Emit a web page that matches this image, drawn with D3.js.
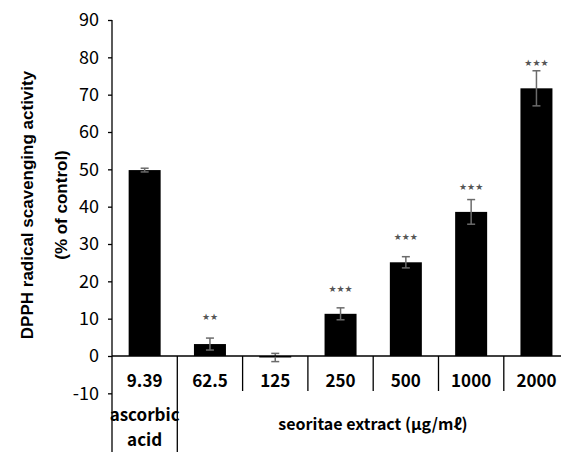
<!DOCTYPE html>
<html>
<head>
<meta charset="utf-8">
<script src="https://cdn.jsdelivr.net/npm/d3@7"></script>
<style>
  body { margin: 0; background: #fff; }
  svg { display: block; }
</style>
</head>
<body>
<svg width="561" height="452"></svg>
<script>
var width = 561, height = 452;

// concentrations (first one is the ascorbic acid control)
var categories = ["9.39", "62.5", "125", "250", "500", "1000", "2000"];
var values = [49.8, 3.2, -0.4, 11.3, 25.1, 38.6, 71.7];
var errors = [0.5, 1.6, 1.1, 1.6, 1.5, 3.3, 4.7];
var stars = ["", "**", "", "***", "***", "***", "***"];
var starLevel = [null, 10.4, null, 18.1, 32.0, 45.4, 78.4];
var yTicks = [-10, 0, 10, 20, 30, 40, 50, 60, 70, 80, 90];

var svg = d3.select("svg");

var y = d3.scaleLinear().domain([0, 90]).range([356, 20]);
var x = d3.scaleBand().domain(categories).range([112, 112 + 65.3 * 7]);
var barW = 32;

var labelFont = "'Noto Sans CJK KR', 'Noto Sans', sans-serif";

// y axis
var yAxis = d3.axisLeft(y).tickValues(yTicks).tickSize(4).tickPadding(9)
    .tickFormat(function (d) { return String(d); });
var ga = svg.append("g").attr("transform", "translate(112,0)").call(yAxis);
ga.select(".domain").remove();
ga.selectAll(".tick line").attr("stroke", "#000").attr("stroke-width", 1.3);
ga.selectAll(".tick text")
    .attr("font-family", labelFont)
    .attr("font-size", "18px")
    .attr("fill", "#000");
// axis line runs down to the bottom of the table
svg.append("line")
    .attr("x1", 112).attr("x2", 112)
    .attr("y1", y(90)).attr("y2", height)
    .attr("stroke", "#000").attr("stroke-width", 1.3);

// axis title
var title = svg.append("text")
    .attr("transform", "translate(33," + 205 + ") rotate(-90)")
    .attr("text-anchor", "middle")
    .attr("font-family", "'Liberation Sans', Arial, sans-serif")
    .attr("font-weight", "bold")
    .attr("font-size", "17px");
title.append("tspan").attr("x", 0).attr("y", 0).text("DPPH radical scavenging activity");
title.append("tspan").attr("x", 0).attr("y", 34).text("(% of control)");

// bars
svg.append("g").selectAll("rect").data(categories).enter()
    .append("rect")
    .attr("x", function (d) { return x(d) + x.bandwidth() / 2 - barW / 2; })
    .attr("width", barW)
    .attr("y", function (d, i) { return y(Math.max(0, values[i])); })
    .attr("height", function (d, i) { return Math.abs(y(values[i]) - y(0)); })
    .attr("fill", "#000");

// error bars
var eb = svg.append("g").attr("stroke", "#6b6b6b").attr("stroke-width", 1.5);
categories.forEach(function (d, i) {
    var cx = x(d) + x.bandwidth() / 2;
    var top = y(values[i] + errors[i]), bot = y(values[i] - errors[i]);
    eb.append("line").attr("x1", cx).attr("x2", cx).attr("y1", top).attr("y2", bot);
    eb.append("line").attr("x1", cx - 4).attr("x2", cx + 4).attr("y1", top).attr("y2", top);
    eb.append("line").attr("x1", cx - 4).attr("x2", cx + 4).attr("y1", bot).attr("y2", bot);
});

// significance marks
svg.append("g").selectAll("text").data(categories).enter()
    .append("text")
    .attr("x", function (d) { return x(d) + x.bandwidth() / 2; })
    .attr("y", function (d, i) { return starLevel[i] == null ? 0 : y(starLevel[i]); })
    .attr("dy", "0.35em")
    .attr("text-anchor", "middle")
    .attr("font-family", "'DejaVu Sans', sans-serif")
    .attr("font-size", "9px")
    .attr("fill", "#555")
    .text(function (d, i) { return stars[i].replace(/\*/g, "\u2605"); });

// zero line
svg.append("line")
    .attr("x1", 112).attr("x2", width)
    .attr("y1", y(0)).attr("y2", y(0))
    .attr("stroke", "#000").attr("stroke-width", 1.3);

// category dividers
categories.forEach(function (d, i) {
    if (i === 0) return;
    svg.append("line")
        .attr("x1", x(d)).attr("x2", x(d))
        .attr("y1", y(0)).attr("y2", i === 1 ? height : 391)
        .attr("stroke", "#000").attr("stroke-width", 1.3);
});

// category labels
svg.append("g").selectAll("text").data(categories).enter()
    .append("text")
    .attr("x", function (d) { return x(d) + x.bandwidth() / 2; })
    .attr("y", 387)
    .attr("text-anchor", "middle")
    .attr("font-family", labelFont)
    .attr("font-weight", "bold")
    .attr("font-size", "17px")
    .text(function (d) { return d; });

var cx0 = x(categories[0]) + x.bandwidth() / 2;
svg.append("text").attr("x", cx0).attr("y", 421)
    .attr("text-anchor", "middle").attr("font-family", labelFont)
    .attr("font-weight", "bold").attr("font-size", "17px").text("ascorbic");
svg.append("text").attr("x", cx0).attr("y", 446)
    .attr("text-anchor", "middle").attr("font-family", labelFont)
    .attr("font-weight", "bold").attr("font-size", "17px").text("acid");

svg.append("text")
    .attr("x", 373).attr("y", 430)
    .attr("text-anchor", "middle")
    .attr("font-family", labelFont)
    .attr("font-weight", "bold")
    .attr("font-size", "16px")
    .text("seoritae extract (\u03bcg/m\u2113)");
</script>
</body>
</html>
